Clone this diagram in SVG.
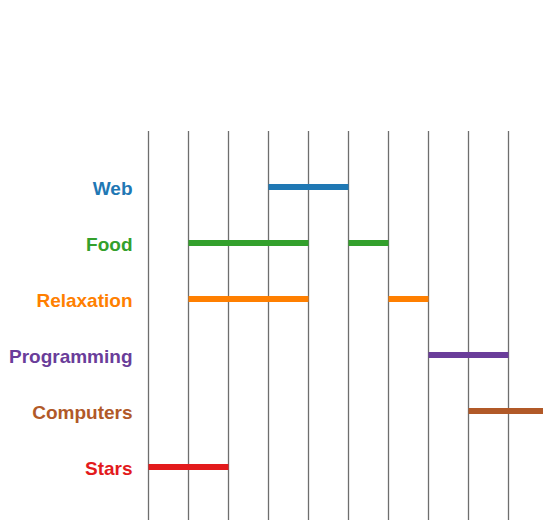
<svg xmlns="http://www.w3.org/2000/svg" width="543" height="520" viewBox="0 0 543 520">
<style>
.grid line{stroke:#6e6e6e;stroke-width:1.3}
.bar{stroke-width:6;stroke-linecap:butt;fill:none}
.lbl{font-family:"Liberation Sans",Arial,sans-serif;font-weight:bold;font-size:19px;text-anchor:end}
</style>
<rect width="543" height="520" fill="#fff"/>
<g id="grid" class="grid">
<line x1="148.5" y1="131" x2="148.5" y2="520"/>
<line x1="188.5" y1="131" x2="188.5" y2="520"/>
<line x1="228.5" y1="131" x2="228.5" y2="520"/>
<line x1="268.5" y1="131" x2="268.5" y2="520"/>
<line x1="308.5" y1="131" x2="308.5" y2="520"/>
<line x1="348.5" y1="131" x2="348.5" y2="520"/>
<line x1="388.5" y1="131" x2="388.5" y2="520"/>
<line x1="428.5" y1="131" x2="428.5" y2="520"/>
<line x1="468.5" y1="131" x2="468.5" y2="520"/>
<line x1="508.5" y1="131" x2="508.5" y2="520"/>
</g>
<g id="web">
<text class="lbl" x="132.5" y="195" fill="#1f78b4">Web</text>
<line class="bar" x1="268.5" y1="187" x2="348.5" y2="187" stroke="#1f78b4"/>
</g>
<g id="food">
<text class="lbl" x="132.5" y="251" fill="#33a02c">Food</text>
<line class="bar" x1="188.5" y1="243" x2="308.5" y2="243" stroke="#33a02c"/>
<line class="bar" x1="348.5" y1="243" x2="388.5" y2="243" stroke="#33a02c"/>
</g>
<g id="relaxation">
<text class="lbl" x="132.5" y="307" fill="#ff7f00">Relaxation</text>
<line class="bar" x1="188.5" y1="299" x2="308.5" y2="299" stroke="#ff7f00"/>
<line class="bar" x1="388.5" y1="299" x2="428.5" y2="299" stroke="#ff7f00"/>
</g>
<g id="programming">
<text class="lbl" x="132.5" y="363" fill="#6a3d9a">Programming</text>
<line class="bar" x1="428.5" y1="355" x2="508.5" y2="355" stroke="#6a3d9a"/>
</g>
<g id="computers">
<text class="lbl" x="132.5" y="419" fill="#b15928">Computers</text>
<line class="bar" x1="468.5" y1="411" x2="548.5" y2="411" stroke="#b15928"/>
</g>
<g id="stars">
<text class="lbl" x="132.5" y="475" fill="#e31a1c">Stars</text>
<line class="bar" x1="148.5" y1="467" x2="228.5" y2="467" stroke="#e31a1c"/>
</g>
</svg>
